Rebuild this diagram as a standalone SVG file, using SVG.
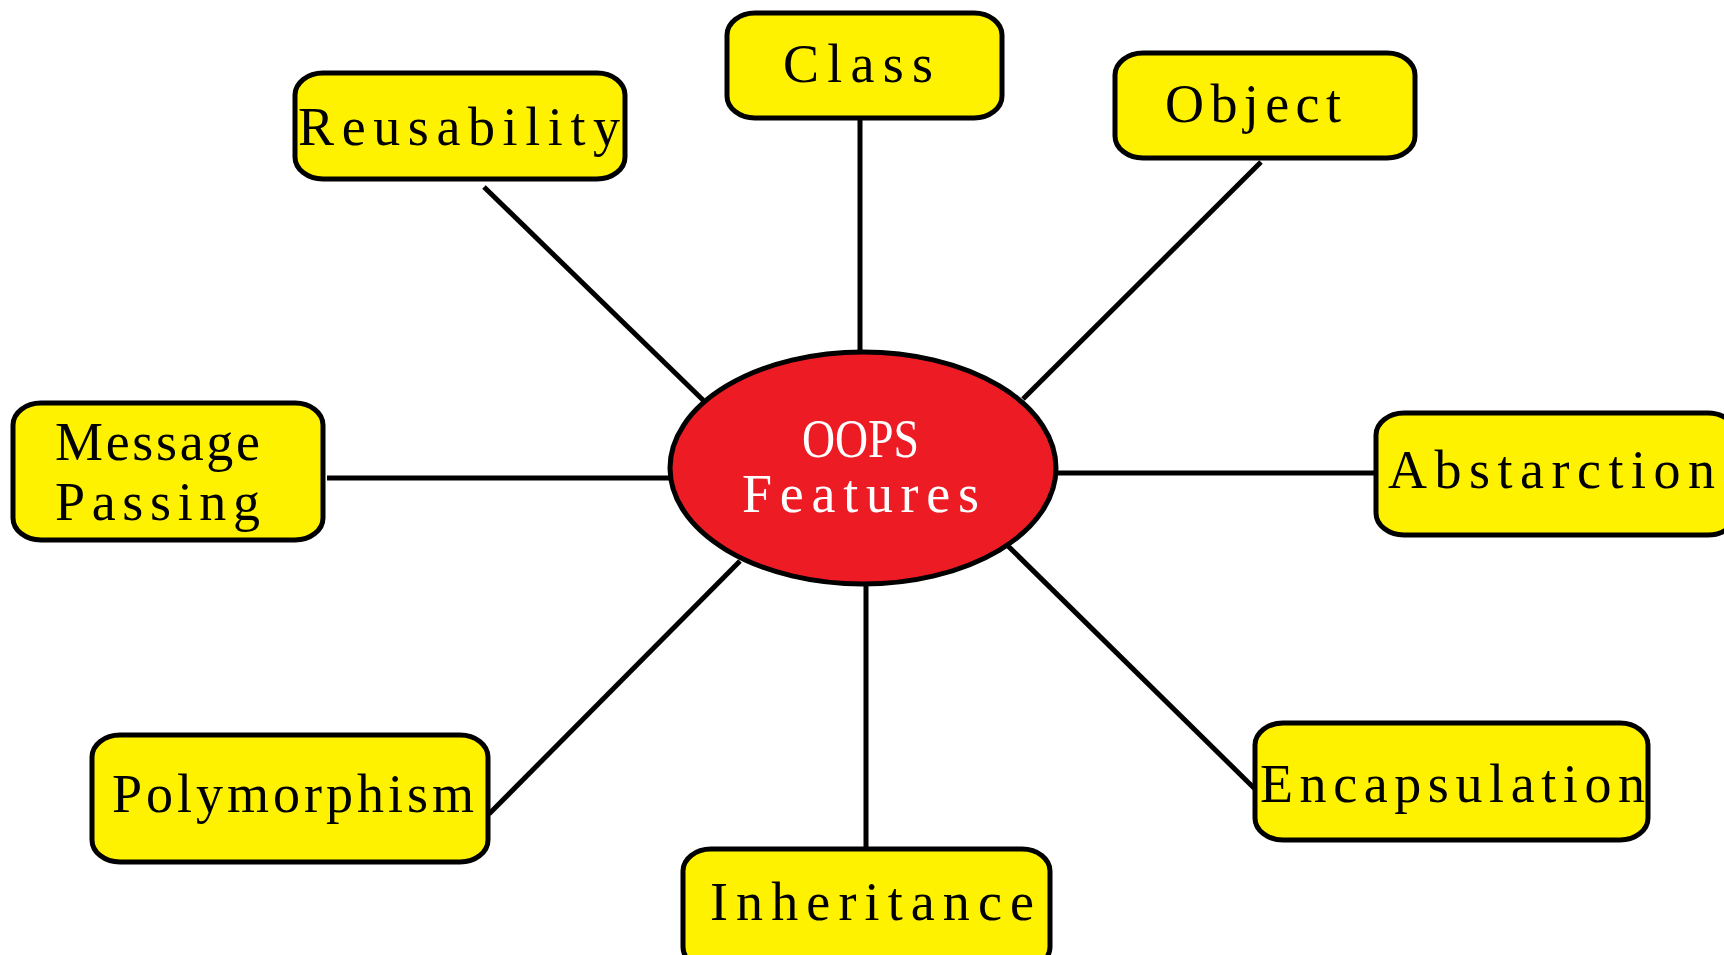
<svg xmlns="http://www.w3.org/2000/svg" width="1724" height="955" viewBox="0 0 1724 955">
<style>
.box{fill:#FFF200;stroke:#000;stroke-width:5}
.hub{fill:#ED1C24;stroke:#000;stroke-width:5}
.lbl{font-family:"Liberation Serif","DejaVu Serif",serif;font-size:54px;fill:#000}
.hubl{font-family:"Liberation Serif","DejaVu Serif",serif;font-size:54px;fill:#fff}
.con line{stroke:#000;stroke-width:5}
</style>
<rect width="1724" height="955" fill="#fff"/>
<g class="con" id="connectors">
<line x1="484" y1="187" x2="704" y2="401"/>
<line x1="860" y1="120" x2="860" y2="354"/>
<line x1="1261" y1="162" x2="1023" y2="399"/>
<line x1="327" y1="478" x2="671" y2="478"/>
<line x1="1056" y1="473" x2="1376" y2="473"/>
<line x1="489" y1="814" x2="740" y2="561"/>
<line x1="866" y1="585" x2="866" y2="849"/>
<line x1="1008" y1="546" x2="1255" y2="789"/>
</g>
<g id="reusability"><rect class="box" x="295" y="73" width="330" height="106" rx="28" ry="22"/><text class="lbl" x="298" y="145" textLength="322" lengthAdjust="spacing">Reusability</text></g>
<g id="class"><rect class="box" x="727" y="13" width="275" height="105" rx="28" ry="22"/><text class="lbl" x="783" y="82" textLength="150" lengthAdjust="spacing">Class</text></g>
<g id="object"><rect class="box" x="1115" y="53" width="300" height="105" rx="28" ry="22"/><text class="lbl" x="1165" y="122" textLength="176" lengthAdjust="spacing">Object</text></g>
<g id="message-passing"><rect class="box" x="13" y="403" width="310" height="137" rx="28" ry="22"/><text class="lbl" x="55" y="460" textLength="205" lengthAdjust="spacing">Message</text><text class="lbl" x="55" y="520" textLength="205" lengthAdjust="spacing">Passing</text></g>
<g id="oops-features"><ellipse class="hub" cx="863" cy="468" rx="193" ry="116"/><text class="hubl" x="802" y="457" textLength="117" lengthAdjust="spacingAndGlyphs">OOPS</text><text class="hubl" x="742" y="512" textLength="237" lengthAdjust="spacing">Features</text></g>
<g id="abstarction"><rect class="box" x="1376" y="413" width="360" height="122" rx="28" ry="22"/><text class="lbl" x="1388" y="488" textLength="327" lengthAdjust="spacing">Abstarction</text></g>
<g id="polymorphism"><rect class="box" x="92" y="735" width="396" height="127" rx="28" ry="22"/><text class="lbl" x="112" y="812" textLength="362" lengthAdjust="spacing">Polymorphism</text></g>
<g id="inheritance"><rect class="box" x="683" y="849" width="367" height="120" rx="28" ry="22"/><text class="lbl" x="710" y="920" textLength="324" lengthAdjust="spacing">Inheritance</text></g>
<g id="encapsulation"><rect class="box" x="1255" y="723" width="393" height="117" rx="28" ry="22"/><text class="lbl" x="1260" y="802" textLength="385" lengthAdjust="spacing">Encapsulation</text></g>
</svg>
